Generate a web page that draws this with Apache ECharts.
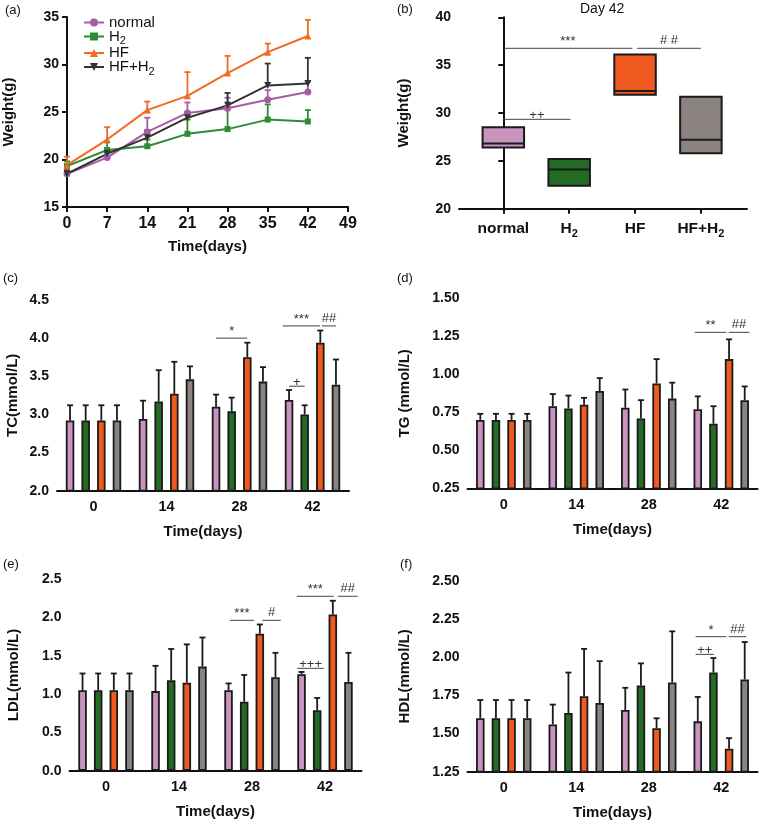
<!DOCTYPE html>
<html>
<head>
<meta charset="utf-8">
<title>Body weight and serum lipids</title>
<script src="https://cdn.jsdelivr.net/npm/echarts@6/dist/echarts.min.js"></script>
<style>
  html, body { margin: 0; padding: 0; background: #fff; }
  #chart { width: 760px; height: 826px; }
</style>
</head>
<body>
<div id="chart"></div>
<script>
// groups
const groupNames = ['normal', 'H2', 'HF', 'HF+H2'];

// (a) body weight over time, mean and top of error bar
const days = [0, 7, 14, 21, 28, 35, 42];
const wNormal = [18.5, 20.2, 22.9, 24.9, 25.4, 26.3, 27.1];
const wNormalTop = [18.9, 20.7, 24.4, 26.0, 26.5, 27.3, 28.2];
const wH2 = [19.3, 21.0, 21.4, 22.7, 23.2, 24.2, 24.0];
const wH2Top = [19.8, 21.8, 22.1, 24.2, 25.6, 25.8, 25.2];
const wHF = [19.4, 22.1, 25.2, 26.7, 29.1, 31.3, 33.0];
const wHFTop = [20.3, 23.4, 26.1, 29.2, 30.9, 32.2, 34.7];
const wHFH2 = [18.5, 20.6, 22.3, 24.4, 25.7, 27.8, 28.0];
const wHFH2Top = [18.8, 21.0, 23.1, 25.0, 27.0, 30.1, 30.7];

// (b) day 42 weight: min, median, max
const boxLow = [26.4, 22.4, 31.9, 25.8];
const boxMed = [26.8, 24.1, 32.3, 27.2];
const boxHigh = [28.5, 25.2, 36.1, 31.7];
// [from, to, y]
const boxMarks = [[0, 1.96, 36.76], [2.03, 3.0, 36.76], [0, 1.02, 29.34]];
const boxMarkText = ['***', '# #', '++'];

// (c)-(f) lipids at day 0, 14, 28, 42
const barDays = ['0', '14', '28', '42'];

const tcNormal = [2.92, 2.94, 3.10, 3.19];
const tcNormalTop = [3.12, 3.18, 3.26, 3.32];
const tcH2 = [2.92, 3.17, 3.04, 3.00];
const tcH2Top = [3.12, 3.58, 3.22, 3.12];
const tcHF = [2.92, 3.27, 3.75, 3.94];
const tcHFTop = [3.12, 3.69, 3.94, 4.10];
const tcHFH2 = [2.92, 3.46, 3.43, 3.39];
const tcHFH2Top = [3.12, 3.63, 3.62, 3.72];

const tgNormal = [0.70, 0.79, 0.78, 0.77];
const tgNormalTop = [0.74, 0.87, 0.90, 0.855];
const tgH2 = [0.70, 0.775, 0.71, 0.675];
const tgH2Top = [0.74, 0.86, 0.83, 0.79];
const tgHF = [0.70, 0.80, 0.94, 1.10];
const tgHFTop = [0.74, 0.845, 1.10, 1.23];
const tgHFH2 = [0.70, 0.89, 0.84, 0.83];
const tgHFH2Top = [0.74, 0.975, 0.945, 0.92];

const ldlNormal = [1.05, 1.04, 1.05, 1.26];
const ldlNormalTop = [1.27, 1.37, 1.14, 1.29];
const ldlH2 = [1.05, 1.18, 0.90, 0.79];
const ldlH2Top = [1.27, 1.59, 1.25, 0.95];
const ldlHF = [1.05, 1.15, 1.79, 2.04];
const ldlHFTop = [1.27, 1.65, 1.91, 2.22];
const ldlHFH2 = [1.05, 1.36, 1.22, 1.16];
const ldlHFH2Top = [1.27, 1.74, 1.54, 1.54];

const hdlNormal = [1.60, 1.56, 1.655, 1.58];
const hdlNormalTop = [1.72, 1.69, 1.80, 1.74];
const hdlH2 = [1.60, 1.635, 1.815, 1.90];
const hdlH2Top = [1.72, 1.90, 1.96, 1.995];
const hdlHF = [1.60, 1.745, 1.535, 1.40];
const hdlHFTop = [1.72, 2.055, 1.60, 1.47];
const hdlHFH2 = [1.60, 1.70, 1.835, 1.855];
const hdlHFH2Top = [1.72, 1.975, 2.17, 2.10];

// significance marks: [day index, from bar slot, to bar slot, y]
const tcMarks = [[2, 0, 2, 4.0], [3, -0.4, 1.98, 4.16], [3, 2.1, 3, 4.16], [3, 0, 1, 3.37]];
const tcMarkText = ['*', '***', '##', '+'];
const tgMarks = [[3, -0.2, 1.82, 1.276], [3, 1.98, 3.3, 1.276]];
const tgMarkText = ['**', '##'];
const ldlMarks = [[2, 0.08, 1.63, 1.964], [2, 2.16, 3.34, 1.964], [3, -0.3, 2.06, 2.278], [3, 2.32, 3.59, 2.278], [3, -0.27, 1.43, 1.337]];
const ldlMarkText = ['***', '#', '***', '##', '+++'];
const hdlMarks = [[3, -0.14, 1.82, 2.135], [3, 1.98, 3.09, 2.135], [3, -0.14, 1.03, 2.019]];
const hdlMarkText = ['*', '##', '++'];

const FONT = 'Arial, "Liberation Sans", Helvetica, sans-serif';
const lineColors = ['#a65ca3', '#2f8a34', '#f26a21', '#333333'];
const lineSymbols = ['circle', 'rect', 'triangle', 'triangle'];
const barColors = ['#c994c0', '#246c26', '#f15a1e', '#8b8380'];
const BAR_W = 8.5;
const BAR_GAP = 0.84;
const PITCH = BAR_W * (1 + BAR_GAP);

function richName(name) {
  return name.endsWith('2') ? '{t|' + name.slice(0, -1) + '}{s|2}' : '{t|' + name + '}';
}
function richStyles(size, weight) {
  const sub = Math.round(size * 0.72);
  return {
    t: { fontSize: size, fontWeight: weight, fontFamily: FONT, color: '#111', lineHeight: size + 5 },
    s: { fontSize: sub, fontWeight: weight, fontFamily: FONT, color: '#111', verticalAlign: 'bottom', lineHeight: sub + 1 }
  };
}

function axisBase() {
  return {
    axisLine: { lineStyle: { color: '#111', width: 2 } },
    axisTick: { length: 5, lineStyle: { color: '#111', width: 2 } },
    splitLine: { show: false },
    nameLocation: 'middle',
    nameTextStyle: { fontFamily: FONT, fontWeight: 'bold', fontSize: 15, color: '#111' }
  };
}

function yAxisOf(grid, min, max, step, decimals, name, gap, size) {
  return Object.assign(axisBase(), {
    type: 'value', gridIndex: grid, min: min, max: max, interval: step,
    name: name, nameGap: gap,
    axisLabel: {
      margin: 8, fontFamily: FONT, fontWeight: 'bold', fontSize: size, color: '#111',
      formatter: v => v.toFixed(decimals)
    }
  });
}

function barXAxis(grid) {
  return Object.assign(axisBase(), {
    type: 'category', gridIndex: grid, data: barDays,
    name: 'Time(days)', nameGap: 34,
    axisTick: { alignWithLabel: true, length: 5, lineStyle: { color: '#111', width: 2 } },
    axisLabel: { margin: 9, fontFamily: FONT, fontWeight: 'bold', fontSize: 14.5, color: '#111' }
  });
}

function errorRender(offsetOf) {
  return function (params, api) {
    const x = api.value(0);
    const p0 = api.coord([x, api.value(1)]);
    const p1 = api.coord([x, api.value(2)]);
    const dx = offsetOf ? offsetOf(api.value(3)) : 0;
    const c = api.visual('color');
    const st = { stroke: c, lineWidth: 1.8 };
    return {
      type: 'group',
      children: [
        { type: 'line', shape: { x1: p0[0] + dx, y1: p0[1], x2: p1[0] + dx, y2: p1[1] }, style: st },
        { type: 'line', shape: { x1: p1[0] + dx - 3, y1: p1[1], x2: p1[0] + dx + 3, y2: p1[1] }, style: st }
      ]
    };
  };
}

function markGroup(x1, x2, y, text) {
  const ch = text.charAt(0);
  const dy = ch === '+' ? 4 : (ch === '*' ? 1 : 0);
  return {
    type: 'group',
    children: [
      { type: 'line', shape: { x1: x1, y1: y, x2: x2, y2: y }, style: { stroke: '#444', lineWidth: 1 } },
      { type: 'text', style: { text: text, x: (x1 + x2) / 2, y: y + dy - 1, align: 'center', verticalAlign: 'bottom',
        fontFamily: FONT, fontSize: 13, fill: '#333' } }
    ]
  };
}

const grids = [
  { left: 67, top: 17, width: 281, height: 190 },
  { left: 459, top: 17.3, width: 288, height: 191.4 },
  { left: 57, top: 300, width: 292, height: 190.7 },
  { left: 467.5, top: 298.3, width: 290, height: 190 },
  { left: 69.5, top: 579.3, width: 292, height: 191.4 },
  { left: 467.5, top: 581, width: 290, height: 190.7 }
];

const xAxes = [
  Object.assign(axisBase(), {
    type: 'value', gridIndex: 0, min: 0, max: 49, interval: 7,
    name: 'Time(days)', nameGap: 32,
    axisLabel: { margin: 9, fontFamily: FONT, fontWeight: 'bold', fontSize: 16, color: '#111' }
  }),
  Object.assign(axisBase(), {
    type: 'value', gridIndex: 1, min: -0.673, max: 3.70,
    axisTick: { customValues: [0, 1, 2, 3], length: 5, lineStyle: { color: '#111', width: 2 } },
    axisLabel: {
      customValues: [0, 1, 2, 3], margin: 10,
      formatter: v => richName(groupNames[Math.round(v)]),
      rich: richStyles(15.5, 'bold')
    }
  }),
  barXAxis(2), barXAxis(3), barXAxis(4), barXAxis(5)
];

const yAxes = [
  yAxisOf(0, 15, 35, 5, 0, 'Weight(g)', 51, 14),
  yAxisOf(1, 20, 40, 5, 0, 'Weight(g)', 48, 14),
  yAxisOf(2, 2.0, 4.5, 0.5, 1, 'TC(mmol/L)', 37, 14),
  yAxisOf(3, 0.25, 1.5, 0.25, 2, 'TG (mmol/L)', 55, 14),
  yAxisOf(4, 0, 2.5, 0.5, 1, 'LDL(mmol/L)', 48, 14),
  yAxisOf(5, 1.25, 2.5, 0.25, 2, 'HDL(mmol/L)', 55, 14)
];

const series = [];

// (a) lines + error bars
const weightMeans = [wNormal, wH2, wHF, wHFH2];
const weightTops = [wNormalTop, wH2Top, wHFTop, wHFH2Top];
groupNames.forEach((g, i) => {
  series.push({
    type: 'custom', name: g + ' sd', xAxisIndex: 0, yAxisIndex: 0,
    itemStyle: { color: lineColors[i] },
    renderItem: errorRender(null),
    data: days.map((d, k) => [d, weightMeans[i][k], weightTops[i][k]])
  });
});
groupNames.forEach((g, i) => {
  series.push({
    type: 'line', name: g, xAxisIndex: 0, yAxisIndex: 0,
    symbol: lineSymbols[i], symbolSize: i === 1 ? 6 : 7, symbolRotate: i === 3 ? 180 : 0,
    itemStyle: { color: lineColors[i] },
    lineStyle: { width: 2, color: lineColors[i] },
    data: days.map((d, k) => [d, weightMeans[i][k]])
  });
});

// (b) floating boxes
series.push({
  type: 'custom', name: 'day42', xAxisIndex: 1, yAxisIndex: 1,
  renderItem: function (params, api) {
    const i = api.value(0);
    const lo = api.coord([i, api.value(1)]);
    const md = api.coord([i, api.value(2)]);
    const hi = api.coord([i, api.value(3)]);
    const w = api.size([0.63, 0])[0];
    return {
      type: 'group',
      children: [
        { type: 'rect', shape: { x: lo[0] - w / 2, y: hi[1], width: w, height: lo[1] - hi[1] },
          style: { fill: barColors[params.dataIndex], stroke: '#1a1a1a', lineWidth: 2 } },
        { type: 'line', shape: { x1: md[0] - w / 2, y1: md[1], x2: md[0] + w / 2, y2: md[1] },
          style: { stroke: '#1a1a1a', lineWidth: 2 } }
      ]
    };
  },
  data: groupNames.map((g, i) => [i, boxLow[i], boxMed[i], boxHigh[i]])
});
series.push({
  type: 'custom', name: 'day42 marks', xAxisIndex: 1, yAxisIndex: 1,
  renderItem: function (params, api) {
    const a = api.coord([api.value(0), api.value(2)]);
    const b = api.coord([api.value(1), api.value(2)]);
    return markGroup(a[0], b[0], a[1], boxMarkText[params.dataIndex]);
  },
  data: boxMarks
});

// (c)-(f) grouped bars
const barPanels = [
  { axis: 2, key: 'TC', means: [tcNormal, tcH2, tcHF, tcHFH2], tops: [tcNormalTop, tcH2Top, tcHFTop, tcHFH2Top], marks: tcMarks, text: tcMarkText },
  { axis: 3, key: 'TG', means: [tgNormal, tgH2, tgHF, tgHFH2], tops: [tgNormalTop, tgH2Top, tgHFTop, tgHFH2Top], marks: tgMarks, text: tgMarkText },
  { axis: 4, key: 'LDL', means: [ldlNormal, ldlH2, ldlHF, ldlHFH2], tops: [ldlNormalTop, ldlH2Top, ldlHFTop, ldlHFH2Top], marks: ldlMarks, text: ldlMarkText },
  { axis: 5, key: 'HDL', means: [hdlNormal, hdlH2, hdlHF, hdlHFH2], tops: [hdlNormalTop, hdlH2Top, hdlHFTop, hdlHFH2Top], marks: hdlMarks, text: hdlMarkText }
];
const slotX = s => (s - 1.5) * PITCH;

barPanels.forEach(p => {
  groupNames.forEach((g, i) => {
    series.push({
      type: 'bar', name: p.key + ' ' + g, xAxisIndex: p.axis, yAxisIndex: p.axis,
      barWidth: BAR_W, barGap: (BAR_GAP * 100) + '%',
      itemStyle: { color: barColors[i], borderColor: '#1a1a1a', borderWidth: 1.8 },
      data: p.means[i]
    });
  });
  const errData = [];
  groupNames.forEach((g, i) => {
    barDays.forEach((d, k) => errData.push([k, p.means[i][k], p.tops[i][k], i]));
  });
  series.push({
    type: 'custom', name: p.key + ' sd', xAxisIndex: p.axis, yAxisIndex: p.axis, z: 3,
    itemStyle: { color: '#1a1a1a' },
    renderItem: errorRender(slotX),
    data: errData
  });
  series.push({
    type: 'custom', name: p.key + ' marks', xAxisIndex: p.axis, yAxisIndex: p.axis, z: 3,
    renderItem: function (params, api) {
      const c = api.coord([api.value(0), api.value(3)]);
      return markGroup(c[0] + slotX(api.value(1)), c[0] + slotX(api.value(2)), c[1], p.text[params.dataIndex]);
    },
    data: p.marks
  });
});

function label(text, x, y, size) {
  return { type: 'text', left: x, top: y, style: { text: text, fontFamily: FONT, fontSize: size || 13, fill: '#111' } };
}

const chart = echarts.init(document.getElementById('chart'), null, { renderer: 'canvas' });
chart.setOption({
  animation: false,
  backgroundColor: '#fff',
  grid: grids,
  xAxis: xAxes,
  yAxis: yAxes,
  legend: {
    data: groupNames,
    orient: 'vertical', left: 78, top: 10,
    itemWidth: 20, itemHeight: 10, itemGap: -1,
    formatter: name => richName(name),
    textStyle: { rich: richStyles(15, 'normal') }
  },
  graphic: [
    label('(a)', 5, 4), label('(b)', 397, 3), label('(c)', 3, 272),
    label('(d)', 397, 272), label('(e)', 3, 558), label('(f)', 400, 558),
    { type: 'text', left: 580, top: 2, style: { text: 'Day 42', fontFamily: FONT, fontSize: 14, fill: '#111' } }
  ],
  series: series
});
</script>
</body>
</html>
